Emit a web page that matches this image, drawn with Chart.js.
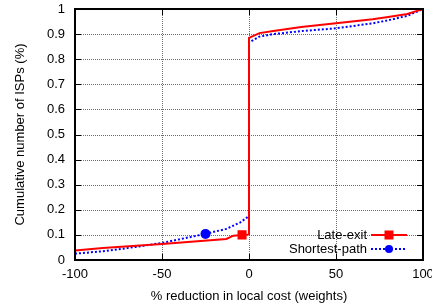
<!DOCTYPE html>
<html>
<head>
<meta charset="utf-8">
<script src="https://cdn.jsdelivr.net/npm/chart.js@4/dist/chart.umd.min.js"></script>
<style>
    html, body { margin: 0; padding: 0; background: #fff; }
    #wrap { width: 432px; height: 306px; }
</style>
</head>
<body>
<div id="wrap"><canvas id="cdf"></canvas></div>
<script>
// ---- data ----
const lateExitX = [-100, -84, -50, -13, -9, -4, 0, 0, 6, 14, 30, 50, 71, 80, 91, 100];
const lateExitY = [0.038, 0.048, 0.064, 0.084, 0.097, 0.1, 0.102, 0.885, 0.904, 0.912, 0.928, 0.943, 0.959, 0.968, 0.98, 1.0];
const shortestX = [-100, -84, -65, -50, -25, -13, -5, -1, 0, 0, 6, 14, 30, 50, 71, 80, 91, 100];
const shortestY = [0.025, 0.035, 0.052, 0.068, 0.104, 0.124, 0.15, 0.17, 0.175, 0.866, 0.89, 0.9, 0.912, 0.923, 0.943, 0.955, 0.973, 1.0];
const lateExitMarkAt = -4;
const shortestMarkAt = -25;
const xTicks = [-100, -50, 0, 50, 100];
const yTicks = [0, 0.1, 0.2, 0.3, 0.4, 0.5, 0.6, 0.7, 0.8, 0.9, 1];

const FONT = "'Liberation Sans', Arial, sans-serif";

function toPoints(xs, ys) {
    return xs.map((x, i) => ({ x: x, y: ys[i] }));
}

// only one marker per curve, like gnuplot's point placement
function markerRadius(xs, at, r) {
    let done = false;
    return xs.map(x => {
        if (!done && x === at) { done = true; return r; }
        return 0;
    });
}

function pixX(chart, v) {
    return Math.round(chart.scales.x.getPixelForValue(v));
}
function pixY(chart, v) {
    return Math.round(chart.scales.y.getPixelForValue(v));
}

// dotted grid behind the curves
const gridPlugin = {
    id: "dotgrid",
    beforeDatasetsDraw(chart) {
        const ctx = chart.ctx;
        const a = chart.chartArea;
        ctx.save();
        ctx.fillStyle = "#6e6e6e";
        xTicks.forEach(v => {
            const px = pixX(chart, v);
            for (let y = Math.round(a.top); y < a.bottom; y += 2) ctx.fillRect(px, y, 1, 1);
        });
        yTicks.forEach(v => {
            const py = pixY(chart, v);
            for (let x = Math.round(a.left); x < a.right; x += 2) ctx.fillRect(x, py, 1, 1);
        });
        ctx.restore();
    }
};

// frame, inward tick marks (gnuplot style) and the legend
const framePlugin = {
    id: "frameplot",
    afterDraw(chart) {
        const ctx = chart.ctx;
        const a = chart.chartArea;
        ctx.save();
        ctx.fillStyle = "#000";
        xTicks.forEach(v => {
            const px = pixX(chart, v);
            ctx.fillRect(px, a.bottom - 6, 1, 6);
            ctx.fillRect(px, a.top, 1, 6);
        });
        yTicks.forEach(v => {
            const py = pixY(chart, v);
            ctx.fillRect(a.left, py, 6, 1);
            ctx.fillRect(a.right - 6, py, 6, 1);
        });
        ctx.strokeStyle = "#000";
        ctx.lineWidth = 2;
        ctx.setLineDash([]);
        ctx.strokeRect(a.left, a.top, a.right - a.left, a.bottom - a.top);

        // legend
        ctx.font = "13px " + FONT;
        ctx.textAlign = "right";
        ctx.textBaseline = "middle";
        chart.data.datasets.forEach((ds, i) => {
            const y = 235 + i * 14;
            ctx.fillStyle = "#000";
            ctx.fillText(ds.label, 367, y);
            ctx.strokeStyle = ds.borderColor;
            ctx.lineWidth = ds.borderWidth;
            ctx.setLineDash(ds.borderDash || []);
            ctx.beginPath();
            ctx.moveTo(371, y); ctx.lineTo(407, y);
            ctx.stroke();
            ctx.setLineDash([]);
            ctx.fillStyle = ds.pointBackgroundColor;
            if (ds.pointStyle === "rect") {
                ctx.fillRect(389 - 4.5, y - 4.5, 9, 9);
            } else {
                ctx.beginPath();
                ctx.arc(389, y, 4, 0, Math.PI * 2);
                ctx.fill();
            }
        });
        ctx.restore();
    }
};

new Chart(document.getElementById("cdf"), {
    type: "line",
    data: {
        datasets: [
            {
                label: "Late-exit",
                data: toPoints(lateExitX, lateExitY),
                borderColor: "#ff0000",
                borderWidth: 2,
                pointStyle: "rect",
                pointBackgroundColor: "#ff0000",
                pointBorderColor: "#ff0000",
                pointRadius: markerRadius(lateExitX, lateExitMarkAt, 5),
                tension: 0
            },
            {
                label: "Shortest-path",
                data: toPoints(shortestX, shortestY),
                borderColor: "#0000ff",
                borderWidth: 2,
                borderDash: [2, 2],
                pointStyle: "circle",
                pointBackgroundColor: "#0000ff",
                pointBorderColor: "#0000ff",
                pointRadius: markerRadius(shortestX, shortestMarkAt, 4),
                tension: 0
            }
        ]
    },
    options: {
        responsive: true,
        maintainAspectRatio: false,
        animation: false,
        layout: { padding: { left: 0, right: 9, top: 9, bottom: 0 } },
        plugins: {
            legend: { display: false },
            tooltip: { enabled: false }
        },
        scales: {
            x: {
                type: "linear",
                min: -100,
                max: 100,
                afterBuildTicks: s => { s.ticks = xTicks.map(v => ({ value: v })); },
                afterFit: s => { s.height = 46; s.paddingLeft = 0; s.paddingRight = 0; },
                ticks: {
                    color: "#000",
                    font: { family: FONT, size: 13 },
                    padding: 7,
                    maxRotation: 0
                },
                grid: { display: false, drawTicks: false },
                border: { display: false },
                title: {
                    display: true,
                    text: "% reduction in local cost (weights)",
                    color: "#000",
                    font: { family: FONT, size: 13 },
                    padding: { top: 0, bottom: 2 }
                }
            },
            y: {
                min: 0,
                max: 1,
                afterBuildTicks: s => { s.ticks = yTicks.map(v => ({ value: v })); },
                afterFit: s => { s.width = 75; s.paddingTop = 0; s.paddingBottom = 0; },
                ticks: {
                    color: "#000",
                    font: { family: FONT, size: 13 },
                    padding: 10,
                    callback: v => String(Math.round(v * 10) / 10)
                },
                grid: { display: false, drawTicks: false },
                border: { display: false },
                title: {
                    display: true,
                    text: "Cumulative number of ISPs (%)",
                    color: "#000",
                    font: { family: FONT, size: 13 },
                    padding: { top: 13, bottom: 0 }
                }
            }
        }
    },
    plugins: [gridPlugin, framePlugin]
});
</script>
</body>
</html>
